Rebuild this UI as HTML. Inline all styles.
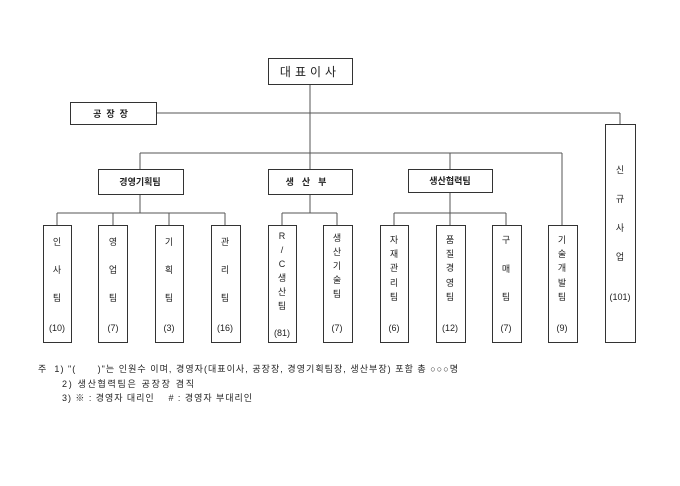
<!DOCTYPE html>
<html><head><meta charset="utf-8"><style>
html,body{margin:0;padding:0;background:#fff;}
svg text{font-family:"Liberation Sans","Noto Sans CJK KR","NanumGothic",sans-serif;fill:#222;white-space:pre;}
</style></head><body>
<svg width="680" height="481" xmlns="http://www.w3.org/2000/svg" xml:space="preserve">
<g stroke="#555" stroke-width="1" fill="none">
<line x1="310" y1="84" x2="310" y2="169"/>
<line x1="156" y1="113" x2="620" y2="113"/>
<line x1="620" y1="113" x2="620" y2="124"/>
<line x1="140" y1="153" x2="562" y2="153"/>
<line x1="140" y1="153" x2="140" y2="169"/>
<line x1="450" y1="153" x2="450" y2="169"/>
<line x1="562" y1="153" x2="562" y2="225"/>
<line x1="140" y1="194" x2="140" y2="213"/>
<line x1="310" y1="194" x2="310" y2="213"/>
<line x1="450" y1="192" x2="450" y2="213"/>
<line x1="57" y1="213" x2="225" y2="213"/>
<line x1="282" y1="213" x2="337" y2="213"/>
<line x1="394" y1="213" x2="506" y2="213"/>
<line x1="57" y1="213" x2="57" y2="225"/><line x1="113" y1="213" x2="113" y2="225"/>
<line x1="169" y1="213" x2="169" y2="225"/><line x1="225" y1="213" x2="225" y2="225"/>
<line x1="282" y1="213" x2="282" y2="225"/><line x1="337" y1="213" x2="337" y2="225"/>
<line x1="394" y1="213" x2="394" y2="225"/><line x1="450" y1="213" x2="450" y2="225"/>
<line x1="506" y1="213" x2="506" y2="225"/>
</g>
<g stroke="#333" stroke-width="1" fill="#fff">
<rect x="268.5" y="58.5" width="84" height="26"/>
<rect x="70.5" y="102.5" width="86" height="22"/>
<rect x="98.5" y="169.5" width="85" height="25"/>
<rect x="268.5" y="169.5" width="84" height="25"/>
<rect x="408.5" y="169.5" width="84" height="23"/>
<rect x="605.5" y="124.5" width="30" height="218"/>
<rect x="43.5" y="225.5" width="28" height="117"/>
<rect x="98.5" y="225.5" width="29" height="117"/>
<rect x="155.5" y="225.5" width="28" height="117"/>
<rect x="211.5" y="225.5" width="29" height="117"/>
<rect x="268.5" y="225.5" width="28" height="117"/>
<rect x="323.5" y="225.5" width="29" height="117"/>
<rect x="380.5" y="225.5" width="28" height="117"/>
<rect x="436.5" y="225.5" width="29" height="117"/>
<rect x="492.5" y="225.5" width="29" height="117"/>
<rect x="548.5" y="225.5" width="29" height="117"/>
</g>
<g font-size="12" text-anchor="middle">
<text x="310" y="76" letter-spacing="4">대표이사</text>
</g>
<g font-size="9" text-anchor="middle" font-weight="bold">
<text x="113" y="117" letter-spacing="5">공장장</text>
<text x="140" y="185">경영기획팀</text>
<text x="310" y="185" letter-spacing="8">생산부</text>
<text x="450" y="184">생산협력팀</text>
</g>
<g font-size="9" text-anchor="middle">
<text x="57" y="245">인</text><text x="57" y="273">사</text><text x="57" y="301">팀</text><text x="57" y="331">(10)</text>
<text x="113" y="245">영</text><text x="113" y="273">업</text><text x="113" y="301">팀</text><text x="113" y="331">(7)</text>
<text x="169" y="245">기</text><text x="169" y="273">획</text><text x="169" y="301">팀</text><text x="169" y="331">(3)</text>
<text x="225" y="245">관</text><text x="225" y="273">리</text><text x="225" y="301">팀</text><text x="225" y="331">(16)</text>
<text x="282" y="239">R</text><text x="282" y="253">/</text><text x="282" y="267">C</text><text x="282" y="281">생</text><text x="282" y="295">산</text><text x="282" y="309">팀</text><text x="282" y="336">(81)</text>
<text x="337" y="241">생</text><text x="337" y="255">산</text><text x="337" y="269">기</text><text x="337" y="283">술</text><text x="337" y="297">팀</text><text x="337" y="331">(7)</text>
<text x="394" y="243">자</text><text x="394" y="257">재</text><text x="394" y="271">관</text><text x="394" y="286">리</text><text x="394" y="300">팀</text><text x="394" y="331">(6)</text>
<text x="450" y="243">품</text><text x="450" y="257">질</text><text x="450" y="271">경</text><text x="450" y="286">영</text><text x="450" y="300">팀</text><text x="450" y="331">(12)</text>
<text x="506" y="243">구</text><text x="506" y="272">매</text><text x="506" y="300">팀</text><text x="506" y="331">(7)</text>
<text x="562" y="243">기</text><text x="562" y="257">술</text><text x="562" y="271">개</text><text x="562" y="286">발</text><text x="562" y="300">팀</text><text x="562" y="331">(9)</text>
<text x="620" y="173">신</text><text x="620" y="202">규</text><text x="620" y="231">사</text><text x="620" y="260">업</text><text x="620" y="300">(101)</text>
</g>
<g font-size="9">
<text x="38" y="372" textLength="420" lengthAdjust="spacing">주  1) "(      )"는 인원수 이며, 경영자(대표이사, 공장장, 경영기획팀장, 생산부장) 포함 총 ○○○명</text>
<text x="62" y="387" textLength="132" lengthAdjust="spacing">2) 생산협력팀은 공장장 겸직</text>
<text x="62" y="401" textLength="190" lengthAdjust="spacing">3) ※ : 경영자 대리인    # : 경영자 부대리인</text>
</g>
</svg>
</body></html>
